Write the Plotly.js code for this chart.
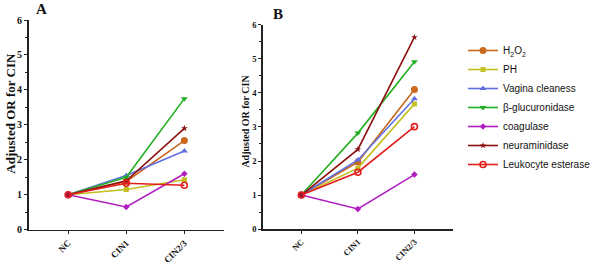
<!DOCTYPE html>
<html><head><meta charset="utf-8">
<script src="https://cdn.plot.ly/plotly-3.0.1.min.js"></script>
<style>html,body{margin:0;padding:0;background:#fff}#chart{width:596px;height:265px}</style>
</head><body><div id="chart"></div>
<script>
const categories = ["NC", "CIN1", "CIN2/3"];
const seriesNames = ["H<sub>2</sub>O<sub>2</sub>", "PH", "Vagina cleaness", "β-glucuronidase", "coagulase", "neuraminidase", "Leukocyte esterase"];
const panelA_H2O2 = [1, 1.38, 2.55];
const panelA_PH = [1, 1.15, 1.43];
const panelA_Vagina = [1, 1.55, 2.25];
const panelA_Gluc = [1, 1.5, 3.75];
const panelA_Coag = [1, 0.65, 1.6];
const panelA_Neur = [1, 1.4, 2.9];
const panelA_Leuk = [1, 1.33, 1.27];
const panelB_H2O2 = [1, 1.97, 4.1];
const panelB_PH = [1, 1.79, 3.68];
const panelB_Vagina = [1, 2.03, 3.83];
const panelB_Gluc = [1, 2.82, 4.92];
const panelB_Coag = [1, 0.59, 1.6];
const panelB_Neur = [1, 2.34, 5.64];
const panelB_Leuk = [1, 1.67, 3.01];
const yTickVals = [0, 1, 2, 3, 4, 5, 6];
const yTitle = "Adjusted OR for CIN";
const panelLabels = ["A", "B"];

const colors = ["#C8691F", "#C4BE1E", "#5F6FE0", "#22B022", "#B01EC0", "#8B1010", "#E41E1E"];
const symbols = ["circle", "square", "triangle-up", "triangle-down", "diamond", "star", "circle-open"];
const sizes = [7, 5, 6, 6, 5, 5, 6];

const dataA = [panelA_H2O2, panelA_PH, panelA_Vagina, panelA_Gluc, panelA_Coag, panelA_Neur, panelA_Leuk];
const dataB = [panelB_H2O2, panelB_PH, panelB_Vagina, panelB_Gluc, panelB_Coag, panelB_Neur, panelB_Leuk];

const traces = [];
dataA.forEach((vals, i) => {
  traces.push({x: categories, y: vals, xaxis: 'x', yaxis: 'y', type: 'scatter', mode: 'lines+markers',
    name: seriesNames[i], showlegend: false,
    line: {color: colors[i], width: 1.6},
    marker: {color: colors[i], symbol: symbols[i], size: sizes[i], line: {color: colors[i], width: i === 6 ? 1.6 : 0}}});
});
dataB.forEach((vals, i) => {
  traces.push({x: categories, y: vals, xaxis: 'x2', yaxis: 'y2', type: 'scatter', mode: 'lines+markers',
    name: seriesNames[i], showlegend: true,
    line: {color: colors[i], width: 1.6},
    marker: {color: colors[i], symbol: symbols[i], size: sizes[i], line: {color: colors[i], width: i === 6 ? 1.6 : 0}}});
});

const serifFamily = "Liberation Serif, Times New Roman, serif";
function xAxis(fs, domain, anchor) {
  return {type: 'category', range: [-0.68, 2.69], domain: domain, anchor: anchor, showline: true, linecolor: '#222', linewidth: 1.6,
    ticks: 'outside', ticklen: 3, tickcolor: '#222', tickangle: -45, showgrid: false, zeroline: false,
    tickfont: {family: serifFamily, size: fs, color: '#111', weight: 'bold'}};
}
function yAxis(fs, domain, anchor) {
  return {range: [0, 6], tickvals: yTickVals, domain: domain, anchor: anchor, showline: true, linecolor: '#222', linewidth: 1.6,
    ticks: 'outside', ticklen: 3, tickcolor: '#222', showgrid: false, zeroline: false,
    minor: {dtick: 0.5, ticks: 'outside', ticklen: 2, tickcolor: '#222', showgrid: false},
    tickfont: {family: serifFamily, size: fs, color: '#111', weight: 'bold'}};
}

const letterFont = {family: serifFamily, size: 15, color: '#111', weight: 'bold'};

const layout = {
  width: 596, height: 265, margin: {l: 0, r: 0, t: 0, b: 0},
  paper_bgcolor: '#fff', plot_bgcolor: '#fff',
  showlegend: true,
  xaxis: xAxis(9, [0.05, 0.391], 'y'),
  yaxis: yAxis(10, [0.1332, 0.9245], 'x'),
  xaxis2: xAxis(8.5, [0.458, 0.790], 'y2'),
  yaxis2: yAxis(8.5, [0.1358, 0.9057], 'x2'),
  legend: {x: 481 / 596, xanchor: 'left', y: 1 - 36 / 265, yanchor: 'top', bgcolor: 'rgba(0,0,0,0)',
    itemwidth: 30, tracegroupgap: 0,
    font: {family: 'Liberation Sans, Arial, sans-serif', size: 10, color: '#111'}},
  annotations: [
    {text: panelLabels[0], x: 43 / 596, y: 1 - 9 / 265, xref: 'paper', yref: 'paper', showarrow: false, xanchor: 'center', yanchor: 'middle', font: letterFont},
    {text: panelLabels[1], x: 289 / 596, y: 1 - 14 / 265, xref: 'paper', yref: 'paper', showarrow: false, xanchor: 'center', yanchor: 'middle', font: letterFont},
    {text: yTitle, textangle: -90, x: 10 / 596, y: 1 - 113 / 265, xref: 'paper', yref: 'paper', showarrow: false, xanchor: 'center', yanchor: 'middle',
      font: {family: serifFamily, size: 13, color: '#111', weight: 'bold'}},
    {text: yTitle, textangle: -90, x: 254 / 596, y: 1 - 121 / 265, xref: 'paper', yref: 'paper', showarrow: false, xanchor: 'center', yanchor: 'middle',
      font: {family: serifFamily, size: 10, color: '#111', weight: 'bold'}}
  ]
};
Plotly.newPlot('chart', traces, layout, {staticPlot: true, displayModeBar: false});
</script></body></html>
